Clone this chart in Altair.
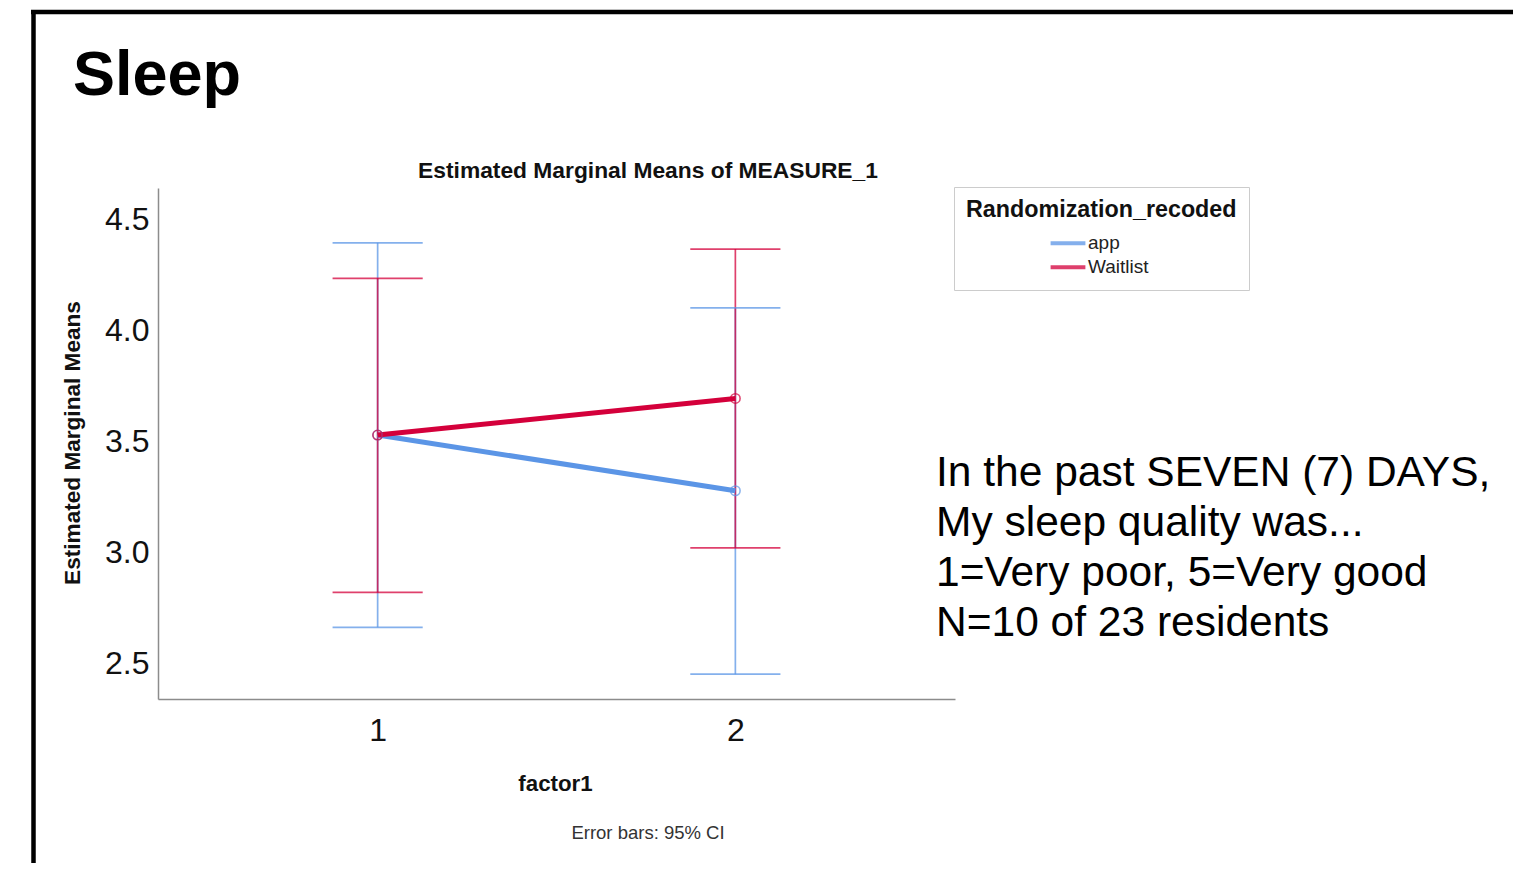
import altair as alt
import pandas as pd

# ---- data ----
GROUPS = ["app", "Waitlist"]
COLORS = ["#5B95E6", "#D4003B"]
FACTOR = [1, 2]
APP_MEAN = [3.527, 3.276]
APP_LO = [2.661, 2.450]
APP_HI = [4.393, 4.100]
WAIT_MEAN = [3.527, 3.692]
WAIT_LO = [2.818, 3.019]
WAIT_HI = [4.233, 4.365]
Y_TICKS = [2.5, 3.0, 3.5, 4.0, 4.5]
X_TICKS = [1, 2]
SLIDE_TITLE = "Sleep"
CHART_TITLE = "Estimated Marginal Means of MEASURE_1"
FOOTNOTE = "Error bars: 95% CI"
NOTE_LINES = [
    "In the past SEVEN (7) DAYS,",
    "My sleep quality was...",
    "1=Very poor, 5=Very good",
    "N=10 of 23 residents",
]

rows = []
for g, m, lo, hi in [("app", APP_MEAN, APP_LO, APP_HI),
                     ("Waitlist", WAIT_MEAN, WAIT_LO, WAIT_HI)]:
    for i, f in enumerate(FACTOR):
        rows.append(dict(factor=f, group=g, mean=m[i], lo=lo[i], hi=hi[i]))
df = pd.DataFrame(rows)

FONT = "Liberation Sans"
x_scale = alt.Scale(domain=[0.386, 2.614], nice=False, zero=False)
y_scale = alt.Scale(domain=[2.338, 4.64], nice=False, zero=False)
color_scale = alt.Scale(domain=GROUPS, range=COLORS)

x_axis = alt.Axis(values=X_TICKS, format="d", title="factor1", labelFontSize=32,
                  labelPadding=16, ticks=False, grid=False, domainColor="#8c8c8c",
                  domainWidth=1.5, labelColor="#111", labelFont=FONT,
                  titleFont=FONT, titleFontSize=22.3, titleFontWeight="bold",
                  titleColor="#111", titleY=91, titleX=397,
                  titleBaseline="alphabetic")
y_axis = alt.Axis(values=Y_TICKS, format=".1f", title="Estimated Marginal Means",
                  labelFontSize=32, labelPadding=9, ticks=False, grid=False,
                  domainColor="#8c8c8c", domainWidth=1.5, labelColor="#111",
                  labelFont=FONT, titleFont=FONT, titleFontSize=22.6,
                  titleFontWeight="bold", titleColor="#111", titleX=-78.5,
                  titleY=254.5, titleBaseline="alphabetic", titleAlign="center")

legend = alt.Legend(title="Randomization_recoded", orient="none", legendX=796,
                    legendY=-1, direction="vertical", padding=12,
                    strokeColor="#cccccc", fillColor="white", titleFontSize=23.3,
                    titleFontWeight="bold", titleColor="#111", titleFont=FONT,
                    titlePadding=7, titleLimit=400, labelFontSize=19,
                    labelFont=FONT, labelColor="#222",
                    symbolType="M-1.45,0H1.45", symbolSize=576,
                    symbolStrokeWidth=4, symbolOffset=88, labelOffset=6,
                    rowPadding=0)

base = alt.Chart(df)
color_enc = alt.Color("group:N", scale=color_scale, legend=legend)

err = base.mark_rule(strokeWidth=1.7, opacity=0.75).encode(
    x=alt.X("factor:Q", scale=x_scale, axis=x_axis, title="factor1"),
    y=alt.Y("lo:Q", scale=y_scale, axis=y_axis, title="Estimated Marginal Means"),
    y2="hi:Q",
    color=color_enc,
)

caps = base.transform_fold(["lo", "hi"], as_=["end", "val"]).transform_calculate(
    xl="datum.factor - 0.126", xr="datum.factor + 0.126"
).mark_rule(strokeWidth=1.7, opacity=0.75).encode(
    x=alt.X("xl:Q", scale=x_scale, axis=x_axis, title="factor1"),
    x2="xr:Q",
    y=alt.Y("val:Q", scale=y_scale, axis=y_axis, title="Estimated Marginal Means"),
    color=color_enc,
)

line = base.mark_line(strokeWidth=5).encode(
    x=alt.X("factor:Q", scale=x_scale, axis=x_axis, title="factor1"),
    y=alt.Y("mean:Q", scale=y_scale, axis=y_axis, title="Estimated Marginal Means"),
    color=color_enc,
)

pts = base.mark_point(shape="circle", filled=False, size=90, strokeWidth=1.6).encode(
    x=alt.X("factor:Q", scale=x_scale, axis=x_axis, title="factor1"),
    y=alt.Y("mean:Q", scale=y_scale, axis=y_axis, title="Estimated Marginal Means"),
    color=color_enc,
)

one = pd.DataFrame({"k": [0]})

slide_title = alt.Chart(one).mark_text(
    align="left", baseline="alphabetic", fontSize=63, fontWeight="bold",
    font=FONT, color="black").encode(
    x=alt.value(-85), y=alt.value(-93), text=alt.value(SLIDE_TITLE))

chart_title = alt.Chart(one).mark_text(
    align="center", baseline="alphabetic", fontSize=22.8, fontWeight="bold",
    font=FONT, color="#111").encode(
    x=alt.value(490), y=alt.value(-10), text=alt.value(CHART_TITLE))

footnote = alt.Chart(one).mark_text(
    align="center", baseline="alphabetic", fontSize=18.5, font=FONT,
    color="#333").encode(
    x=alt.value(490), y=alt.value(651), text=alt.value(FOOTNOTE))

note = alt.Chart(one).mark_text(
    align="left", baseline="alphabetic", fontSize=42.5, lineHeight=50,
    font=FONT, color="black").encode(
    x=alt.value(778), y=alt.value(298), text=alt.value(NOTE_LINES))

frame_top = alt.Chart(one).mark_rule(color="black", strokeWidth=4.5).encode(
    x=alt.value(-127), x2=alt.value(1400), y=alt.value(-176))
frame_left = alt.Chart(one).mark_rule(color="black", strokeWidth=4.5).encode(
    x=alt.value(-124.5), y=alt.value(-178), y2=alt.value(700))

chart = alt.layer(
    err, caps, line, pts, slide_title, chart_title, footnote, note,
    frame_top, frame_left,
).properties(
    width=797, height=511,
    padding={"left": 150, "top": 180, "right": 558, "bottom": 164},
    autosize=alt.AutoSizeParams(type="none"),
).configure(font=FONT, view=alt.ViewConfig(strokeWidth=0))

chart.save("out.html", embed_options={"renderer": "svg", "actions": False})
